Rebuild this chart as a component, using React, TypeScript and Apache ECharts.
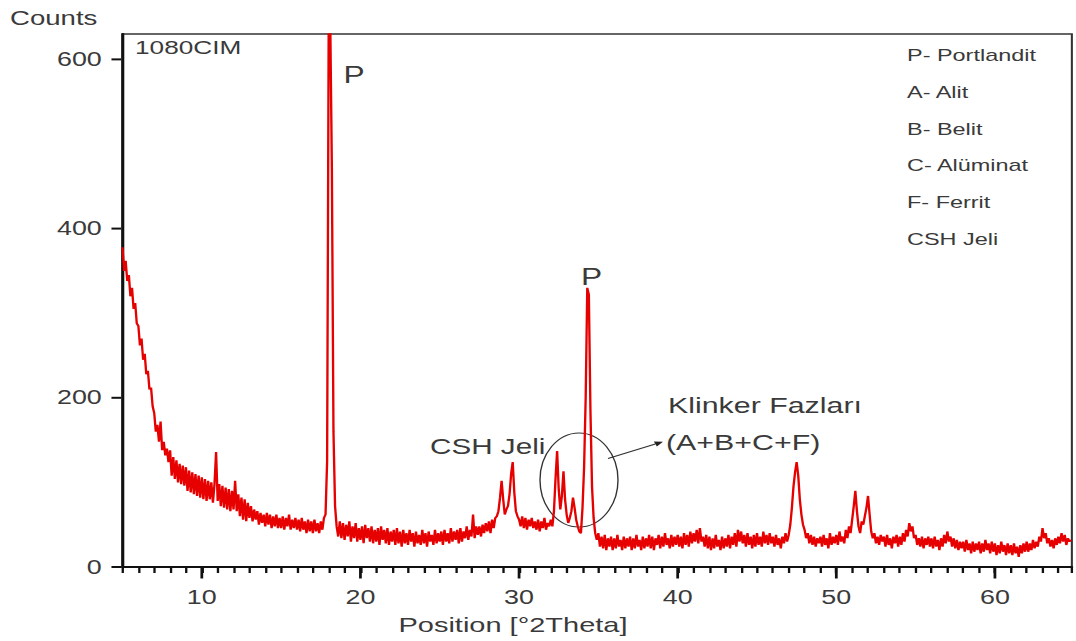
import { useEffect, useRef } from "react";
import * as echarts from "echarts";

// ---- data (2θ from 5.0° in 0.1° steps, one row per degree) ----
const START_DEG = 5;
const STEP = 0.1;

const counts05to19: number[][] = [
  [378, 350, 362, 338, 345, 320, 330, 305, 312, 288], // 5
  [285, 262, 270, 245, 252, 228, 232, 210, 212, 190], // 6
  [182, 160, 168, 148, 172, 138, 148, 132, 140, 124], // 7
  [138, 108, 130, 104, 126, 100, 122, 98, 120, 96], // 8
  [118, 90, 114, 88, 112, 86, 110, 84, 108, 82], // 9
  [106, 80, 104, 78, 102, 80, 100, 76, 98, 136], // 10
  [78, 98, 72, 96, 70, 94, 68, 92, 66, 90], // 11
  [68, 102, 66, 86, 60, 82, 56, 80, 54, 76], // 12
  [58, 72, 54, 68, 56, 66, 50, 64, 52, 62], // 13
  [48, 64, 50, 62, 46, 60, 48, 62, 46, 58], // 14
  [46, 60, 44, 58, 48, 62, 44, 56, 46, 58], // 15
  [44, 56, 42, 58, 44, 54, 40, 56, 42, 54], // 16
  [40, 56, 42, 52, 40, 54, 44, 58, 62, 125], // 17
  [650, 640, 470, 160, 72, 48, 36, 54, 34, 52], // 18
  [32, 50, 36, 54, 30, 48, 34, 52, 30, 46], // 19
];

const counts20to34: number[][] = [
  [32, 48, 28, 50, 34, 46, 30, 48, 28, 44], // 20
  [30, 46, 26, 48, 32, 44, 28, 46, 26, 42], // 21
  [30, 44, 26, 46, 28, 42, 24, 44, 28, 40], // 22
  [26, 44, 30, 40, 24, 42, 28, 38, 26, 44], // 23
  [28, 40, 24, 42, 30, 38, 26, 44, 28, 40], // 24
  [30, 42, 26, 44, 30, 40, 28, 46, 30, 42], // 25
  [32, 44, 28, 46, 30, 42, 34, 48, 32, 44], // 26
  [36, 62, 34, 48, 38, 48, 36, 50, 40, 52], // 27
  [42, 54, 40, 56, 46, 58, 60, 66, 82, 102], // 28
  [80, 62, 68, 72, 86, 110, 124, 88, 66, 60], // 29
  [56, 48, 60, 46, 58, 44, 56, 48, 58, 46], // 30
  [54, 44, 56, 42, 54, 46, 58, 44, 52, 48], // 31
  [56, 48, 66, 105, 137, 92, 68, 84, 113, 80], // 32
  [62, 52, 58, 66, 82, 70, 56, 48, 42, 40], // 33
  [70, 118, 200, 330, 322, 185, 95, 58, 40, 32], // 34
];

const counts35to49: number[][] = [
  [40, 24, 36, 22, 38, 20, 34, 24, 36, 20], // 35
  [34, 22, 38, 24, 32, 20, 36, 22, 34, 24], // 36
  [36, 20, 34, 22, 38, 24, 32, 20, 36, 22], // 37
  [34, 24, 38, 22, 36, 20, 34, 26, 38, 22], // 38
  [36, 24, 40, 26, 34, 22, 38, 24, 36, 26], // 39
  [38, 24, 36, 22, 40, 26, 38, 24, 42, 28], // 40
  [40, 30, 44, 28, 46, 30, 36, 24, 38, 22], // 41
  [36, 20, 34, 22, 38, 24, 32, 20, 36, 22], // 42
  [34, 24, 38, 22, 36, 26, 40, 24, 44, 30], // 43
  [42, 28, 38, 24, 40, 26, 36, 22, 38, 24], // 44
  [40, 26, 36, 24, 42, 28, 38, 26, 40, 28], // 45
  [36, 24, 38, 26, 34, 22, 36, 28, 40, 30], // 46
  [38, 50, 70, 95, 112, 124, 108, 80, 62, 50], // 47
  [44, 34, 40, 28, 38, 26, 36, 24, 34, 28], // 48
  [36, 24, 38, 26, 34, 22, 40, 26, 36, 28], // 49
];

const counts50to64: number[][] = [
  [38, 26, 42, 30, 36, 28, 44, 34, 48, 40], // 50
  [56, 72, 90, 66, 48, 40, 54, 50, 60, 70], // 51
  [84, 62, 42, 34, 40, 28, 36, 26, 38, 30], // 52
  [36, 24, 38, 26, 34, 22, 36, 28, 38, 24], // 53
  [36, 26, 40, 30, 44, 36, 52, 42, 48, 34], // 54
  [38, 26, 34, 24, 36, 22, 34, 26, 36, 24], // 55
  [34, 22, 36, 24, 32, 20, 34, 24, 38, 28], // 56
  [42, 30, 36, 24, 34, 22, 32, 20, 30, 22], // 57
  [30, 18, 32, 20, 28, 16, 30, 18, 28, 20], // 58
  [30, 16, 28, 18, 32, 20, 28, 16, 30, 18], // 59
  [28, 14, 26, 16, 30, 18, 26, 14, 28, 16], // 60
  [26, 14, 28, 16, 24, 12, 26, 16, 28, 18], // 61
  [30, 18, 28, 20, 32, 22, 30, 24, 36, 30], // 62
  [46, 34, 40, 28, 34, 24, 32, 22, 34, 26], // 63
  [36, 28, 40, 30, 38, 26, 34, 30, 32], // 64
];

const xLabelTicks = [10, 20, 30, 40, 50, 60];
const yLabelTicks = [0, 200, 400, 600];
const legendLines = ["P- Portlandit", "A- Alit", "B- Belit", "C- Alüminat", "F- Ferrit", "CSH Jeli"];

const X_MIN = 5;
const X_MAX = 64.85;
const X_MINOR_STEP = 1;
const Y_MIN = 0;
const Y_MAX = 630;

// ---- layout ----
const PAGE_W = 1076;
const PAGE_H = 641;
const CHART_W = 780;
const SX = PAGE_W / CHART_W; // horizontal stretch of the whole figure
const FONT = "'Liberation Sans', Arial, Helvetica, sans-serif";
const TEXT = "#3a3a3a";
const TICK = "#111111";

function buildPoints(): [number, number][] {
  const rows = [...counts05to19, ...counts20to34, ...counts35to49, ...counts50to64];
  const pts: [number, number][] = [];
  rows.forEach((row, i) => {
    row.forEach((v, j) => {
      pts.push([Number((START_DEG + i + j * STEP).toFixed(1)), v]);
    });
  });
  return pts;
}

const px = (x: number) => x / SX; // page x -> chart x

export default function App() {
  const ref = useRef<HTMLDivElement>(null);

  useEffect(() => {
    if (!ref.current) return;
    const chart = echarts.init(ref.current, undefined, { renderer: "svg" });
    const points = buildPoints();

    // arrow geometry (chart coords)
    const ax0 = px(608), ay0 = 458.5, ax1 = px(663), ay1 = 441.7;
    const dx = ax1 - ax0, dy = ay1 - ay0;
    const len = Math.hypot(dx, dy);
    const ux = dx / len, uy = dy / len;
    const bx = ax1 - ux * 6, by = ay1 - uy * 6;

    const option: any = {
      animation: false,
      grid: {
        left: px(122.5),
        right: CHART_W - px(1072),
        top: 34,
        bottom: PAGE_H - 567,
        show: true,
        borderColor: "#333",
        borderWidth: 1.5,
      },
      xAxis: {
        type: "value",
        min: X_MIN,
        max: X_MAX,
        interval: X_MINOR_STEP,
        axisLine: { show: true, onZero: false, lineStyle: { color: "#111", width: 2 } },
        axisTick: { show: true, length: 6, lineStyle: { color: TICK, width: 1.7 } },
        axisLabel: {
          margin: 20,
          color: TEXT,
          fontSize: 19.5,
          fontFamily: FONT,
          formatter: (v: number) => (xLabelTicks.indexOf(v) >= 0 ? String(v) : ""),
        },
        splitLine: { show: false },
      },
      yAxis: {
        type: "value",
        min: Y_MIN,
        max: Y_MAX,
        axisLine: { show: true, onZero: false, lineStyle: { color: "#111", width: 2.2 } },
        axisTick: { show: false },
        axisLabel: {
          customValues: yLabelTicks,
          margin: 15,
          color: TEXT,
          fontSize: 19.5,
          fontFamily: FONT,
        },
        splitLine: { show: false },
      },
      series: [
        {
          type: "line",
          name: "1080CIM",
          data: points,
          showSymbol: false,
          symbol: "none",
          clip: true,
          lineStyle: { color: "#e60000", width: 1.7 },
          itemStyle: { color: "#e60000" },
        },
        {
          // long (major) x ticks at labelled positions
          type: "scatter",
          data: xLabelTicks.map((v) => [v, Y_MIN]),
          symbol: "rect",
          symbolSize: [2, 11],
          symbolOffset: [0, 6],
          itemStyle: { color: TICK, opacity: 1 },
          clip: false,
          silent: true,
        },
        {
          // y ticks
          type: "scatter",
          data: yLabelTicks.map((v) => [X_MIN, v]),
          symbol: "rect",
          symbolSize: [7, 2],
          symbolOffset: [-4.5, 0],
          itemStyle: { color: TICK, opacity: 1 },
          clip: false,
          silent: true,
        },
      ],
      graphic: [
        {
          type: "text",
          x: px(10),
          y: 18,
          style: { text: "Counts", fontSize: 20, fontFamily: FONT, fill: TEXT, verticalAlign: "middle" },
        },
        {
          type: "text",
          x: px(135),
          y: 47,
          style: { text: "1080CIM", fontSize: 19, fontFamily: FONT, fill: TEXT, verticalAlign: "middle" },
        },
        {
          type: "text",
          x: px(354),
          y: 75,
          style: { text: "P", fontSize: 23, fontFamily: FONT, fill: TEXT, align: "center", verticalAlign: "middle" },
        },
        {
          type: "text",
          x: px(591.5),
          y: 277,
          style: { text: "P", fontSize: 23, fontFamily: FONT, fill: TEXT, align: "center", verticalAlign: "middle" },
        },
        ...legendLines.map((t, i) => ({
          type: "text",
          x: px(907),
          y: 55 + i * 36.7,
          style: { text: t, fontSize: 17, fontFamily: FONT, fill: TEXT, verticalAlign: "middle" },
        })),
        {
          type: "text",
          x: px(430),
          y: 447,
          style: { text: "CSH Jeli", fontSize: 21.5, fontFamily: FONT, fill: TEXT, verticalAlign: "middle" },
        },
        {
          type: "text",
          x: px(668),
          y: 406,
          style: { text: "Klinker Fazları", fontSize: 22, fontFamily: FONT, fill: TEXT, verticalAlign: "middle" },
        },
        {
          type: "text",
          x: px(666),
          y: 443,
          style: { text: "(A+B+C+F)", fontSize: 22, fontFamily: FONT, fill: TEXT, verticalAlign: "middle" },
        },
        {
          type: "ellipse",
          shape: { cx: px(579), cy: 480, rx: px(39), ry: 47 },
          style: { fill: "none", stroke: "#333", lineWidth: 1 },
        },
        {
          type: "line",
          shape: { x1: ax0, y1: ay0, x2: bx, y2: by },
          style: { stroke: "#333", lineWidth: 1 },
        },
        {
          type: "polygon",
          shape: {
            points: [
              [ax1, ay1],
              [bx - uy * 2.8, by + ux * 2.8],
              [bx + uy * 2.8, by - ux * 2.8],
            ],
          },
          style: { fill: "#222" },
        },
        {
          type: "text",
          x: px(513),
          y: 625,
          style: {
            text: "Position [°2Theta]",
            fontSize: 21,
            fontFamily: FONT,
            fill: TEXT,
            align: "center",
            verticalAlign: "middle",
          },
        },
      ],
    };

    chart.setOption(option);
    return () => chart.dispose();
  }, []);

  return (
    <div
      ref={ref}
      style={{
        position: "absolute",
        left: 0,
        top: 0,
        width: CHART_W,
        height: PAGE_H,
        transform: `scaleX(${SX})`,
        transformOrigin: "0 0",
        background: "#fff",
      }}
    />
  );
}
